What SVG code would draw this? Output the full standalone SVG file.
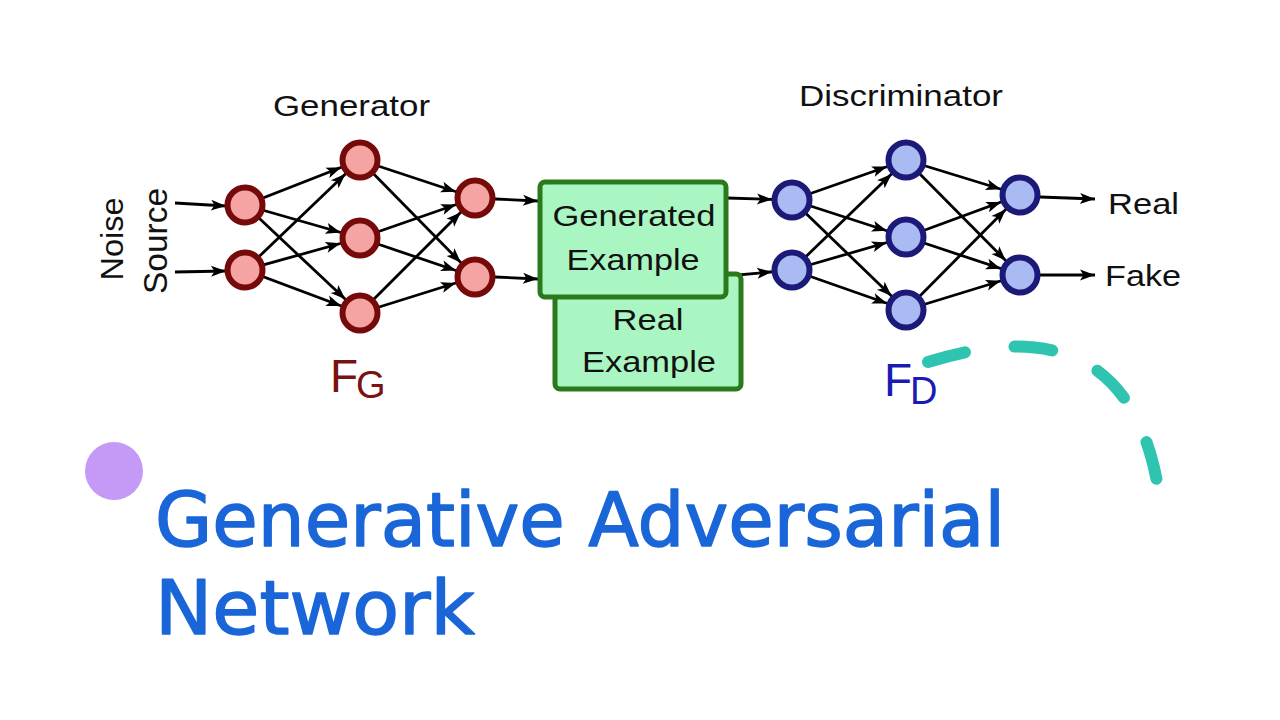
<svg xmlns="http://www.w3.org/2000/svg" width="1280" height="720" viewBox="0 0 1280 720">
<defs>
<marker id="arrN" markerUnits="userSpaceOnUse" markerWidth="45" markerHeight="14" viewBox="0 0 45 14" refX="41" refY="7" orient="auto" overflow="visible">
<path d="M6,1.5 L21,7 L6,12.5 L9.5,7 Z" fill="#000"/>
</marker>
<marker id="arr" markerUnits="userSpaceOnUse" markerWidth="20" markerHeight="14" viewBox="0 0 20 14" refX="20" refY="7" orient="auto" overflow="visible">
<path d="M5,1.5 L20,7 L5,12.5 L8.5,7 Z" fill="#000"/>
</marker>
</defs>
<style>
.en{stroke:#000;stroke-width:2.8;fill:none;marker-end:url(#arrN)}
.ea{stroke:#000;stroke-width:2.8;fill:none;marker-end:url(#arr)}
.g{fill:#f5a3a3;stroke:#760a0a;stroke-width:6}
.d{fill:#aabaf2;stroke:#1c1a78;stroke-width:6}
.box{fill:#aaf6c2;stroke:#2a7a1c;stroke-width:5}
.t{font-family:"Liberation Sans",Arial,sans-serif;fill:#111}
.bt{font-family:"Liberation Sans",Arial,sans-serif;fill:#111;font-size:30px;text-anchor:middle}
</style>
<rect width="1280" height="720" fill="#fff"/>

<g id="connectors">
<line class="ea" x1="175" y1="203" x2="226" y2="206"/>
<line class="ea" x1="175" y1="272" x2="226" y2="271"/>
<line class="en" x1="245" y1="205" x2="360" y2="160"/>
<line class="en" x1="245" y1="205" x2="360" y2="238"/>
<line class="en" x1="245" y1="205" x2="360" y2="313"/>
<line class="en" x1="245" y1="270" x2="360" y2="160"/>
<line class="en" x1="245" y1="270" x2="360" y2="238"/>
<line class="en" x1="245" y1="270" x2="360" y2="313"/>
<line class="en" x1="360" y1="160" x2="475" y2="198"/>
<line class="en" x1="360" y1="160" x2="475" y2="277"/>
<line class="en" x1="360" y1="238" x2="475" y2="198"/>
<line class="en" x1="360" y1="238" x2="475" y2="277"/>
<line class="en" x1="360" y1="313" x2="475" y2="198"/>
<line class="en" x1="360" y1="313" x2="475" y2="277"/>
<line class="ea" x1="495" y1="199" x2="538" y2="201"/>
<line class="ea" x1="495" y1="277" x2="538" y2="279"/>
<line class="en" x1="727" y1="198" x2="792" y2="200"/>
<line class="en" x1="727" y1="276" x2="792" y2="270"/>
<line class="en" x1="792" y1="200" x2="906" y2="160"/>
<line class="en" x1="792" y1="200" x2="906" y2="237"/>
<line class="en" x1="792" y1="200" x2="906" y2="310"/>
<line class="en" x1="792" y1="270" x2="906" y2="160"/>
<line class="en" x1="792" y1="270" x2="906" y2="237"/>
<line class="en" x1="792" y1="270" x2="906" y2="310"/>
<line class="en" x1="906" y1="160" x2="1020" y2="195"/>
<line class="en" x1="906" y1="160" x2="1020" y2="275"/>
<line class="en" x1="906" y1="237" x2="1020" y2="195"/>
<line class="en" x1="906" y1="237" x2="1020" y2="275"/>
<line class="en" x1="906" y1="310" x2="1020" y2="195"/>
<line class="en" x1="906" y1="310" x2="1020" y2="275"/>
<line class="ea" x1="1040" y1="197" x2="1095" y2="199"/>
<line class="ea" x1="1040" y1="275" x2="1095" y2="275"/>
</g>

<g id="noise-label">
<text class="t" font-size="32" text-anchor="middle" transform="translate(123,239) rotate(-90)" textLength="83" lengthAdjust="spacingAndGlyphs">Noise</text>
<text class="t" font-size="34" text-anchor="middle" transform="translate(167,241) rotate(-90)" textLength="106" lengthAdjust="spacingAndGlyphs">Source</text>
</g>

<g id="generator">
<text class="t" x="273" y="116" font-size="30" textLength="157" lengthAdjust="spacingAndGlyphs">Generator</text>
<circle class="g" cx="245" cy="205" r="17.5"/>
<circle class="g" cx="245" cy="270" r="17.5"/>
<circle class="g" cx="360" cy="160" r="17.5"/>
<circle class="g" cx="360" cy="238" r="17.5"/>
<circle class="g" cx="360" cy="313" r="17.5"/>
<circle class="g" cx="475" cy="198" r="17.5"/>
<circle class="g" cx="475" cy="277" r="17.5"/>
<text x="330" y="392" font-family="'Liberation Sans',Arial,sans-serif" font-size="46" fill="#7a1212">F</text>
<text x="356" y="398" font-family="'Liberation Sans',Arial,sans-serif" font-size="38" fill="#7a1212">G</text>
</g>

<g id="real-example">
<rect class="box" x="555" y="274" width="186" height="115" rx="5"/>
<text class="bt" x="648" y="330" textLength="71" lengthAdjust="spacingAndGlyphs">Real</text>
<text class="bt" x="649" y="372" textLength="134" lengthAdjust="spacingAndGlyphs">Example</text>
</g>

<g id="generated-example">
<rect class="box" x="540" y="182" width="186" height="115" rx="5"/>
<text class="bt" x="634" y="226" textLength="163" lengthAdjust="spacingAndGlyphs">Generated</text>
<text class="bt" x="633" y="270" textLength="133" lengthAdjust="spacingAndGlyphs">Example</text>
</g>

<g id="discriminator">
<text class="t" x="799" y="106" font-size="30" textLength="204" lengthAdjust="spacingAndGlyphs">Discriminator</text>
<circle class="d" cx="792" cy="200" r="17.5"/>
<circle class="d" cx="792" cy="270" r="17.5"/>
<circle class="d" cx="906" cy="160" r="17.5"/>
<circle class="d" cx="906" cy="237" r="17.5"/>
<circle class="d" cx="906" cy="310" r="17.5"/>
<circle class="d" cx="1020" cy="195" r="17.5"/>
<circle class="d" cx="1020" cy="275" r="17.5"/>
<text x="884" y="396" font-family="'Liberation Sans',Arial,sans-serif" font-size="46" fill="#1a1ab4">F</text>
<text x="910" y="404" font-family="'Liberation Sans',Arial,sans-serif" font-size="38" fill="#1a1ab4">D</text>
</g>

<g id="outputs">
<text class="t" x="1108" y="214" font-size="30" textLength="71" lengthAdjust="spacingAndGlyphs">Real</text>
<text class="t" x="1105" y="286" font-size="30" textLength="76" lengthAdjust="spacingAndGlyphs">Fake</text>
</g>

<path id="dashed-arc" d="M 928 362 Q 1132 298 1160 500" fill="none" stroke="#2ec4b0" stroke-width="12" stroke-linecap="round" stroke-dasharray="38 50"/>

<circle id="bullet" cx="114" cy="471" r="29" fill="#c59af6"/>

<g id="title" font-family="'DejaVu Sans',sans-serif" fill="#1a66d8" stroke="#1a66d8" stroke-width="1.5" stroke-linejoin="round" font-size="75">
<text x="155" y="546" textLength="850" lengthAdjust="spacingAndGlyphs">Generative Adversarial</text>
<text x="155" y="634" textLength="320" lengthAdjust="spacingAndGlyphs">Network</text>
</g>
</svg>
